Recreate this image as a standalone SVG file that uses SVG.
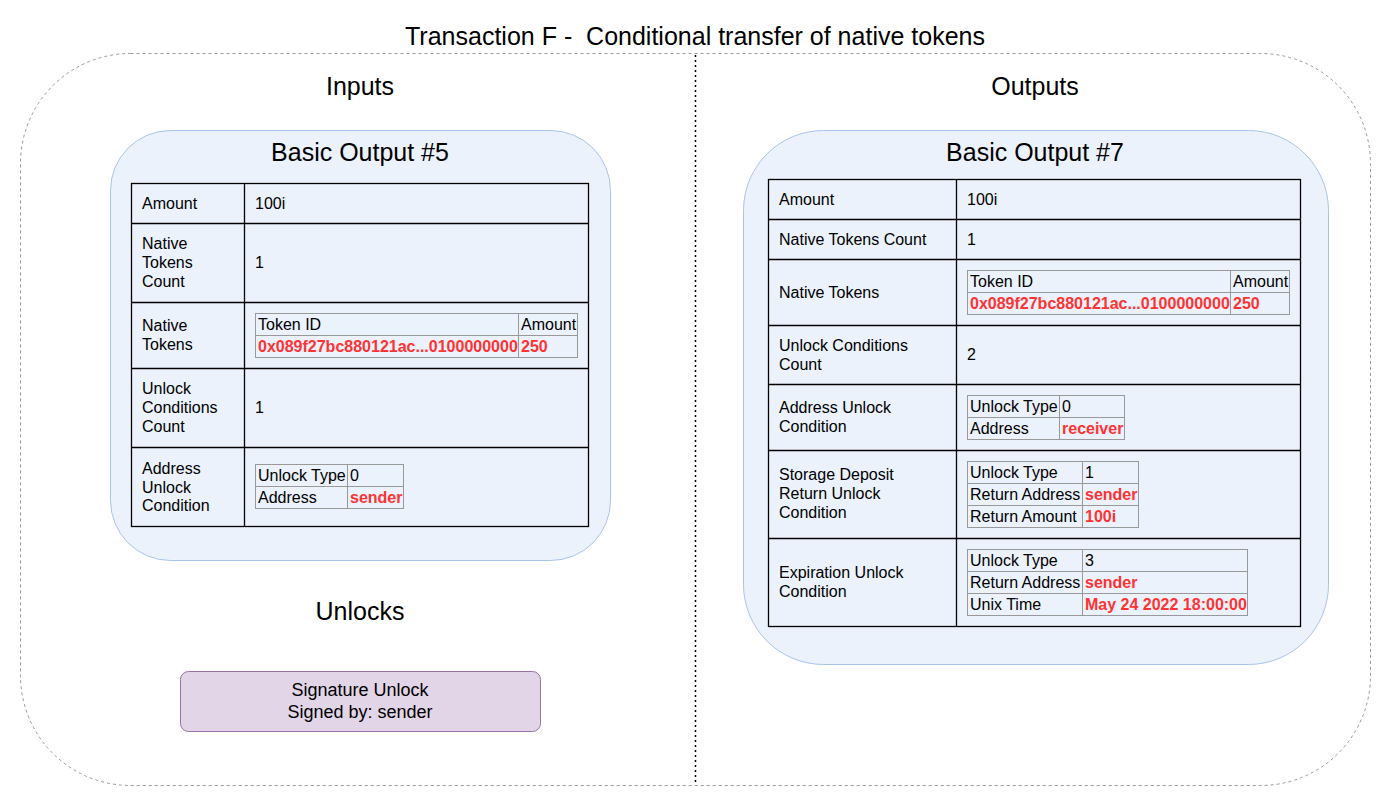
<svg xmlns="http://www.w3.org/2000/svg" width="1392" height="808" viewBox="0 0 1392 808">
<style>
text{font-family:"Liberation Sans",Arial,sans-serif;fill:#000}
.h{font-size:25px;text-anchor:middle}
.t{font-size:16px}
.r{font-size:16px;font-weight:bold;fill:#FF3333}
.c{font-size:18px;text-anchor:middle}
.tbl{fill:none;stroke:#000;stroke-width:1.3}
.in{fill:none;stroke:#999;stroke-width:1}
.box{fill:#EBF2FC;stroke:#A9C4EB;stroke-width:1}
</style>
<rect width="1392" height="808" fill="#fff"/>
<g id="frame">
<rect x="20.5" y="53.5" width="1350" height="732" rx="110" fill="none" stroke="#999" stroke-dasharray="3 3"/>
<line x1="695.5" y1="55" x2="695.5" y2="785" stroke="#000" stroke-width="1.5" stroke-dasharray="2 3"/>
<text class="h" x="695" y="45" xml:space="preserve">Transaction F -  Conditional transfer of native tokens</text>
<text class="h" x="360" y="95">Inputs</text>
<text class="h" x="1035" y="95">Outputs</text>
<text class="h" x="360" y="620">Unlocks</text>
</g>
<g id="input5">
<rect class="box" x="110.5" y="130.5" width="500" height="430" rx="60"/>
<text class="h" x="360" y="161">Basic Output #5</text>
<rect class="tbl" x="131.5" y="183.5" width="457" height="343"/>
<path class="tbl" d="M244.5 183.5V526.5M131.5 223.5H588.5M131.5 302.5H588.5M131.5 368.5H588.5M131.5 447.5H588.5"/>
<text class="t" x="142" y="209">Amount</text><text class="t" x="255" y="209">100i</text>
<text class="t" x="142" y="249">Native</text><text class="t" x="142" y="268">Tokens</text><text class="t" x="142" y="287">Count</text>
<text class="t" x="255" y="268">1</text>
<text class="t" x="142" y="331">Native</text><text class="t" x="142" y="350">Tokens</text>
<rect class="in" x="255.5" y="313.5" width="322" height="44"/>
<path class="in" d="M255.5 335.5H577.5M518.5 313.5V357.5"/>
<text class="t" x="258" y="330">Token ID</text><text class="t" x="521" y="330">Amount</text>
<text class="r" x="258" y="352">0x089f27bc880121ac...0100000000</text><text class="r" x="521" y="352">250</text>
<text class="t" x="142" y="394">Unlock</text><text class="t" x="142" y="413">Conditions</text><text class="t" x="142" y="432">Count</text>
<text class="t" x="255" y="413">1</text>
<text class="t" x="142" y="474">Address</text><text class="t" x="142" y="493">Unlock</text><text class="t" x="142" y="511">Condition</text>
<rect class="in" x="255.5" y="464.5" width="148" height="44"/>
<path class="in" d="M255.5 486.5H403.5M347.5 464.5V508.5"/>
<text class="t" x="258" y="481">Unlock Type</text><text class="t" x="350" y="481">0</text>
<text class="t" x="258" y="503">Address</text><text class="r" x="350" y="503">sender</text>
</g>
<g id="unlock">
<rect x="180.5" y="671.5" width="360" height="60" rx="8" fill="#E1D5E7" stroke="#9673A6"/>
<text class="c" x="360" y="696">Signature Unlock</text>
<text class="c" x="360" y="718">Signed by: sender</text>
</g>
<g id="output7">
<rect class="box" x="743.5" y="130.5" width="585" height="534" rx="80"/>
<text class="h" x="1035" y="161">Basic Output #7</text>
<rect class="tbl" x="768.5" y="179.5" width="532" height="447"/>
<path class="tbl" d="M956.5 179.5V626.5M768.5 219.5H1300.5M768.5 259.5H1300.5M768.5 325.5H1300.5M768.5 384.5H1300.5M768.5 450.5H1300.5M768.5 538.5H1300.5"/>
<text class="t" x="779" y="205">Amount</text><text class="t" x="967" y="205">100i</text>
<text class="t" x="779" y="245">Native Tokens Count</text><text class="t" x="967" y="245">1</text>
<text class="t" x="779" y="298">Native Tokens</text>
<rect class="in" x="967.5" y="270.5" width="322" height="44"/>
<path class="in" d="M967.5 292.5H1289.5M1230.5 270.5V314.5"/>
<text class="t" x="970" y="287">Token ID</text><text class="t" x="1233" y="287">Amount</text>
<text class="r" x="970" y="309">0x089f27bc880121ac...0100000000</text><text class="r" x="1233" y="309">250</text>
<text class="t" x="779" y="351">Unlock Conditions</text><text class="t" x="779" y="370">Count</text>
<text class="t" x="967" y="360">2</text>
<text class="t" x="779" y="413">Address Unlock</text><text class="t" x="779" y="432">Condition</text>
<rect class="in" x="967.5" y="395.5" width="157" height="44"/>
<path class="in" d="M967.5 417.5H1124.5M1059.5 395.5V439.5"/>
<text class="t" x="970" y="412">Unlock Type</text><text class="t" x="1062" y="412">0</text>
<text class="t" x="970" y="434">Address</text><text class="r" x="1062" y="434">receiver</text>
<text class="t" x="779" y="480">Storage Deposit</text><text class="t" x="779" y="499">Return Unlock</text><text class="t" x="779" y="518">Condition</text>
<rect class="in" x="967.5" y="461.5" width="171" height="66"/>
<path class="in" d="M967.5 483.5H1138.5M967.5 505.5H1138.5M1082.5 461.5V527.5"/>
<text class="t" x="970" y="478">Unlock Type</text><text class="t" x="1085" y="478">1</text>
<text class="t" x="970" y="500">Return Address</text><text class="r" x="1085" y="500">sender</text>
<text class="t" x="970" y="522">Return Amount</text><text class="r" x="1085" y="522">100i</text>
<text class="t" x="779" y="578">Expiration Unlock</text><text class="t" x="779" y="597">Condition</text>
<rect class="in" x="967.5" y="549.5" width="280" height="66"/>
<path class="in" d="M967.5 571.5H1247.5M967.5 593.5H1247.5M1082.5 549.5V615.5"/>
<text class="t" x="970" y="566">Unlock Type</text><text class="t" x="1085" y="566">3</text>
<text class="t" x="970" y="588">Return Address</text><text class="r" x="1085" y="588">sender</text>
<text class="t" x="970" y="610">Unix Time</text><text class="r" x="1085" y="610">May 24 2022 18:00:00</text>
</g>
</svg>
